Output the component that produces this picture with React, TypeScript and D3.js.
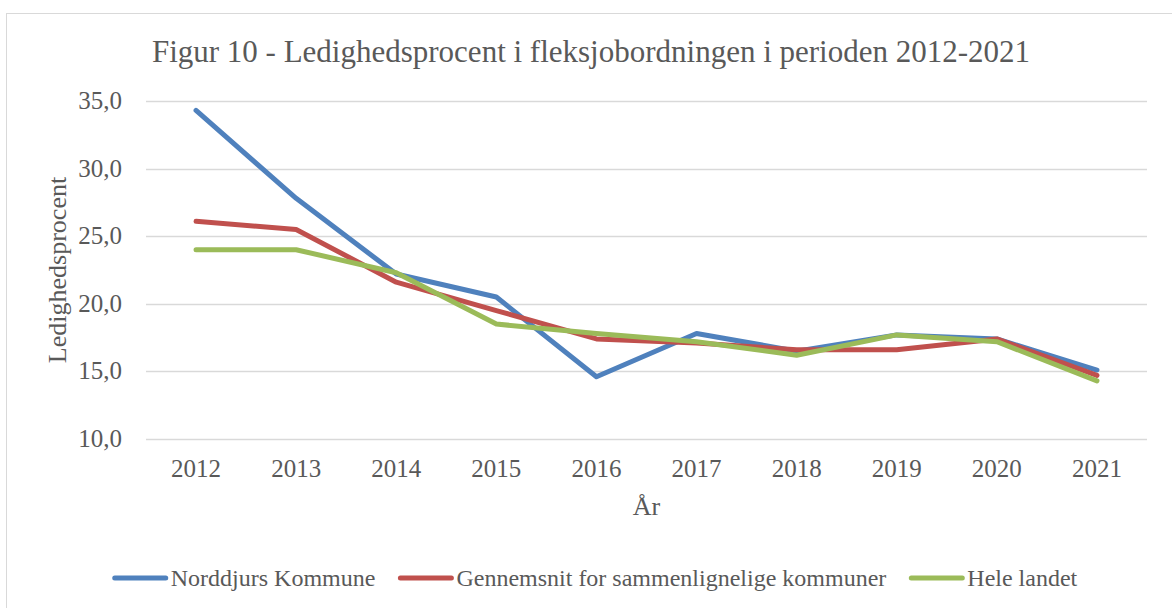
import { useEffect, useRef } from "react";
import * as d3 from "d3";

const years = ["2012", "2013", "2014", "2015", "2016", "2017", "2018", "2019", "2020", "2021"];
const norddjurs = [34.3, 27.8, 22.2, 20.5, 14.6, 17.8, 16.5, 17.7, 17.4, 15.1];
const gennemsnit = [26.1, 25.5, 21.6, 19.5, 17.4, 17.1, 16.6, 16.6, 17.4, 14.7];
const heleLandet = [24.0, 24.0, 22.3, 18.5, 17.8, 17.2, 16.2, 17.7, 17.2, 14.3];
const yTicks = [10, 15, 20, 25, 30, 35];

const seriesNames = ["Norddjurs Kommune", "Gennemsnit for sammenlignelige kommuner", "Hele landet"];
const seriesColors = ["#4F81BD", "#C0504D", "#9BBB59"];

const FONT = "'Liberation Serif', 'Times New Roman', serif";
const TEXT = "#595959";

const App = () => {
  const ref = useRef(null);

  useEffect(() => {
    const W = 1172;
    const H = 608;
    const plot = { left: 146, right: 1147, top: 101, bottom: 439 };

    const svg = d3.select(ref.current).attr("width", W).attr("height", H);
    svg.selectAll("*").remove();

    svg
      .append("rect")
      .attr("x", 6.5)
      .attr("y", 13.5)
      .attr("width", 1300)
      .attr("height", 800)
      .attr("fill", "#fff")
      .attr("stroke", "#D9D9D9")
      .attr("stroke-width", 1);

    const x = d3.scalePoint().domain(years).range([plot.left, plot.right]).padding(0.5);
    const y = d3.scaleLinear().domain([10, 35]).range([plot.bottom, plot.top]);

    // gridlines
    svg
      .append("g")
      .selectAll("line")
      .data(yTicks)
      .join("line")
      .attr("x1", plot.left)
      .attr("x2", plot.right)
      .attr("y1", (d) => Math.round(y(d)) + 0.5)
      .attr("y2", (d) => Math.round(y(d)) + 0.5)
      .attr("stroke", "#D9D9D9")
      .attr("stroke-width", 1.3);

    // y tick labels
    svg
      .append("g")
      .selectAll("text")
      .data(yTicks)
      .join("text")
      .attr("x", 122)
      .attr("y", (d) => y(d) + 8)
      .attr("text-anchor", "end")
      .attr("font-family", FONT)
      .attr("font-size", 25)
      .attr("fill", TEXT)
      .text((d) => d.toFixed(1).replace(".", ","));

    // x tick labels
    svg
      .append("g")
      .selectAll("text")
      .data(years)
      .join("text")
      .attr("x", (d) => x(d))
      .attr("y", 477)
      .attr("text-anchor", "middle")
      .attr("font-family", FONT)
      .attr("font-size", 25)
      .attr("fill", TEXT)
      .text((d) => d);

    // title
    svg
      .append("text")
      .attr("x", 591)
      .attr("y", 62)
      .attr("text-anchor", "middle")
      .attr("font-family", FONT)
      .attr("font-size", 31)
      .attr("fill", TEXT)
      .text("Figur 10 - Ledighedsprocent i fleksjobordningen i perioden 2012-2021");

    // axis titles
    svg
      .append("text")
      .attr("x", (plot.left + plot.right) / 2)
      .attr("y", 515)
      .attr("text-anchor", "middle")
      .attr("font-family", FONT)
      .attr("font-size", 26)
      .attr("fill", TEXT)
      .text("År");

    svg
      .append("text")
      .attr("transform", `translate(66,${(plot.top + plot.bottom) / 2}) rotate(-90)`)
      .attr("text-anchor", "middle")
      .attr("font-family", FONT)
      .attr("font-size", 26)
      .attr("fill", TEXT)
      .text("Ledighedsprocent");

    // lines
    const line = d3
      .line<number>()
      .x((_, i) => x(years[i]))
      .y((d) => y(d));

    [norddjurs, gennemsnit, heleLandet].forEach((vals, i) => {
      svg
        .append("path")
        .datum(vals)
        .attr("d", line)
        .attr("fill", "none")
        .attr("stroke", seriesColors[i])
        .attr("stroke-width", 5)
        .attr("stroke-linejoin", "round")
        .attr("stroke-linecap", "round");
    });

    // legend
    const legend = svg.append("g");
    const swatch = 55;
    const gap = 23;
    let cursor = 0;
    seriesNames.forEach((name, i) => {
      const g = legend.append("g").attr("transform", `translate(${cursor},0)`);
      g.append("line")
        .attr("x1", 2)
        .attr("x2", swatch - 2)
        .attr("y1", 0)
        .attr("y2", 0)
        .attr("stroke", seriesColors[i])
        .attr("stroke-width", 5)
        .attr("stroke-linecap", "round");
      const t = g
        .append("text")
        .attr("x", swatch + 3)
        .attr("y", 8)
        .attr("font-family", FONT)
        .attr("font-size", 24)
        .attr("fill", TEXT)
        .text(name);
      const w = (t.node() as SVGTextElement).getComputedTextLength();
      cursor += swatch + 3 + w + gap;
    });
    const total = cursor - gap;
    legend.attr("transform", `translate(${595 - total / 2},578)`);
  }, []);

  return (
    <div style={{ position: "absolute", left: 0, top: 0 }}>
      <svg ref={ref} style={{ display: "block" }}></svg>
    </div>
  );
};

export default App;
